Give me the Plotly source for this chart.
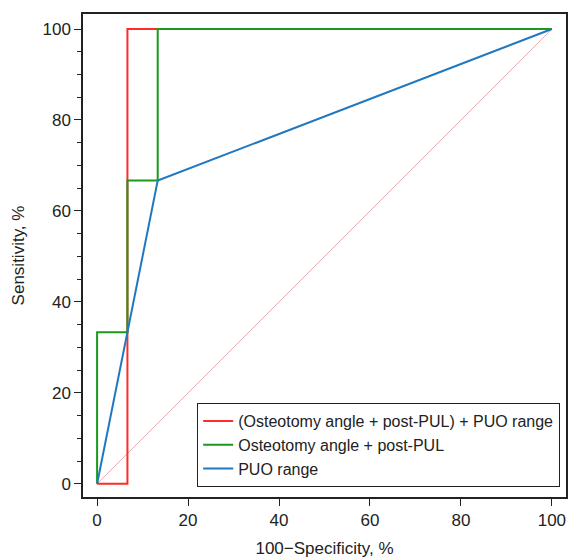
import plotly.graph_objects as go

# Data (100-Specificity %, Sensitivity %)
combo_x = [0, 6.67, 6.67, 100]
combo_y = [0, 0, 100, 100]
osteo_x = [0, 0, 6.67, 6.67, 13.33, 13.33, 100]
osteo_y = [0, 33.33, 33.33, 66.67, 66.67, 100, 100]
puo_x = [0, 13.33, 100]
puo_y = [0, 66.67, 100]
ref_x = [0, 100]
ref_y = [0, 100]
tick_vals = [0, 20, 40, 60, 80, 100]

names = ["(Osteotomy angle + post-PUL) + PUO range",
         "Osteotomy angle + post-PUL",
         "PUO range"]

fig = go.Figure()
fig.add_trace(go.Scatter(x=ref_x, y=ref_y, mode="lines", showlegend=False,
                         line=dict(color="#eba9a9", width=1), hoverinfo="skip"))
fig.add_trace(go.Scatter(x=combo_x, y=combo_y, mode="lines", name=names[0],
                         line=dict(color="#ff2a2a", width=2)))
fig.add_trace(go.Scatter(x=osteo_x, y=osteo_y, mode="lines", name=names[1],
                         line=dict(color="#1a9a1a", width=2)))
fig.add_trace(go.Scatter(x=puo_x, y=puo_y, mode="lines", name=names[2],
                         line=dict(color="#1f78c0", width=2)))

axis_common = dict(showgrid=False, zeroline=False, showline=True, linecolor="#222",
                   linewidth=1.5, mirror=True, ticks="outside", ticklen=7,
                   tickcolor="#222", tickwidth=1.2, automargin=False,
                   tickfont=dict(size=17, color="#222", family="Liberation Sans"))

fig.update_layout(
    width=573, height=558,
    margin=dict(l=83, r=7, t=14, b=61),
    plot_bgcolor="white", paper_bgcolor="white",
    font=dict(family="Liberation Sans", color="#222"),
    xaxis=dict(range=[-3.1, 103.1], tickvals=tick_vals,
               title=dict(text="100−Specificity, %", font=dict(size=17), standoff=14),
               **axis_common),
    yaxis=dict(range=[-2.9, 103.3], tickvals=tick_vals,
               minor=dict(dtick=5, ticks="outside", ticklen=4, tickcolor="#222"),
               title=dict(text="Sensitivity, %", font=dict(size=17), standoff=14),
               **axis_common),
    legend=dict(x=0.236, y=0.195, xanchor="left", yanchor="top",
                bordercolor="#222", borderwidth=1.2, bgcolor="white",
                font=dict(size=16, color="#222"), itemwidth=30,
                tracegroupgap=0),
)

fig.write_html("out.html", config={"displayModeBar": False},
               post_script="document.body.style.margin='0';document.body.style.overflow='hidden';")
